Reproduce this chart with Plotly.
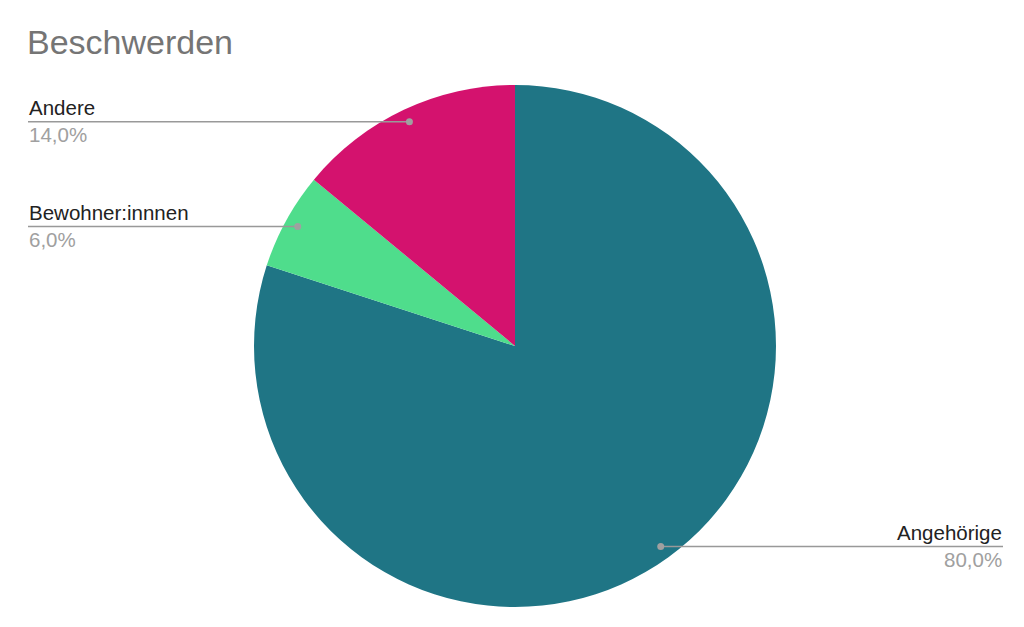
import math
import plotly.graph_objects as go

# Data
categories = ["Angehörige", "Bewohner:innen", "Andere"]
label_texts = ["Angehörige", "Bewohner:innnen", "Andere"]
values = [80.0, 6.0, 14.0]
colors = ["#1f7585", "#4fdd8c", "#d4126e"]
title_text = "Beschwerden"

W, H = 1024, 627
OFF = 8  # page body margin
cx, cy, R = 515 - OFF, 346 - OFF, 261  # pie placement in px

def px_x(x):
    return x / W

def px_y(y):
    return 1 - y / H

fig = go.Figure()
fig.add_trace(go.Pie(
    labels=categories,
    values=values,
    marker=dict(colors=colors, line=dict(width=0)),
    sort=False,
    direction="clockwise",
    rotation=0,
    textinfo="none",
    hoverinfo="label+percent",
    showlegend=False,
    domain=dict(x=[px_x(cx - R), px_x(cx + R)], y=[px_y(cy + R), px_y(cy - R)]),
))

FONT = "Arial, Liberation Sans, sans-serif"
shapes = []
annotations = []
total = sum(values)
cum = 0.0
dot_r_frac = 0.95
label_font = dict(family=FONT, size=20.5, color="#222222")
pct_font = dict(family=FONT, size=20.5, color="#a0a0a0")
for cat, txt, v in zip(categories, label_texts, values):
    mid = (cum + v / 2) / total * 2 * math.pi
    cum += v
    dx = cx + R * dot_r_frac * math.sin(mid)
    dy = cy - R * dot_r_frac * math.cos(mid)
    pct = f"{v / total * 100:.1f}%".replace(".", ",")
    if math.sin(mid) < 0:
        x0, x1 = 28 - OFF, dx
        lx, anchor = 28 - OFF, "left"
    else:
        x0, x1 = dx, 1003 - OFF
        lx, anchor = 1003 - OFF, "right"
    shapes.append(dict(type="line", xref="paper", yref="paper",
                       x0=px_x(x0), x1=px_x(x1), y0=px_y(dy), y1=px_y(dy),
                       line=dict(color="#999999", width=1.5)))
    shapes.append(dict(type="circle", xref="paper", yref="paper",
                       x0=px_x(dx - 3.5), x1=px_x(dx + 3.5),
                       y0=px_y(dy + 3.5), y1=px_y(dy - 3.5),
                       fillcolor="#a0a0a0", line=dict(width=0)))
    annotations.append(dict(text=txt, x=px_x(lx), y=px_y(dy - 2), xref="paper", yref="paper",
                            xanchor=anchor, yanchor="bottom", showarrow=False,
                            font=label_font, borderpad=0))
    annotations.append(dict(text=pct, x=px_x(lx), y=px_y(dy + 0), xref="paper", yref="paper",
                            xanchor=anchor, yanchor="top", showarrow=False,
                            font=pct_font, borderpad=0))

annotations.append(dict(text=title_text, x=px_x(26 - OFF), y=px_y(62 - OFF), xref="paper", yref="paper",
                        xanchor="left", yanchor="bottom", showarrow=False,
                        font=dict(family=FONT, size=34, color="#757575"),
                        borderpad=0))

fig.update_layout(
    width=W, height=H,
    margin=dict(l=0, r=0, t=0, b=0),
    paper_bgcolor="white",
    plot_bgcolor="white",
    shapes=shapes,
    annotations=annotations,
)

fig.write_html("out.html")
